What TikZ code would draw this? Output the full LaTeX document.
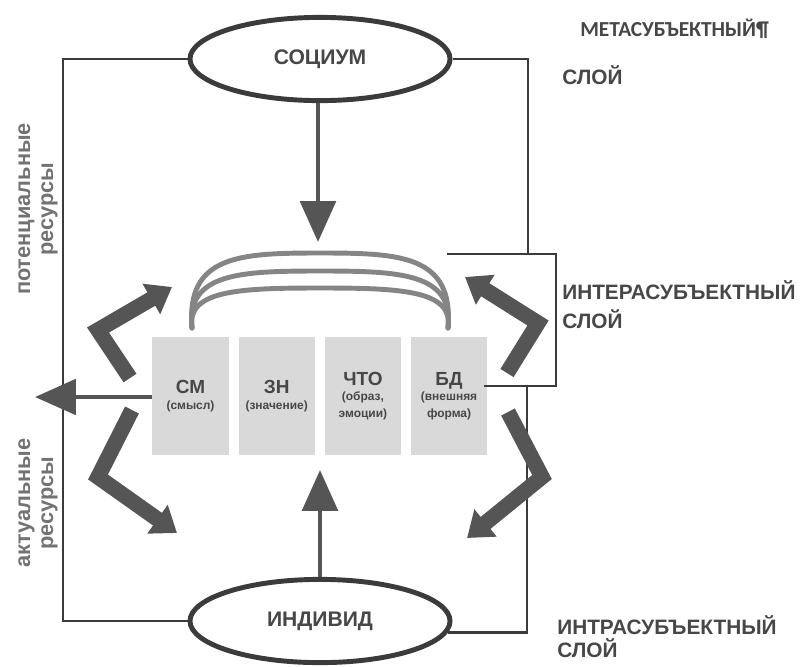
\documentclass[tikz,border=0pt]{standalone}
\usepackage{fontspec}
\setmainfont{Liberation Sans}
\newfontfamily\calfont{Carlito}
\usetikzlibrary{positioning,arrows.meta,shapes.geometric}
\definecolor{lgray}{HTML}{3B3B3B}
\definecolor{agray}{HTML}{555555}
\definecolor{fgray}{HTML}{D9D9D9}
\definecolor{rgray}{HTML}{858585}
\definecolor{tgray}{HTML}{474747}
\definecolor{sgray}{HTML}{727272}
\tikzstyle{ebox}=[ellipse, draw=lgray, line width=3.5pt, minimum width=6.5cm,
                  minimum height=2.08cm, inner sep=0pt, text=tgray,
                  font=\fontsize{15}{17}\selectfont\bfseries]
\tikzstyle{cbox}=[rectangle, fill=fgray, minimum width=1.9cm, minimum height=2.925cm,
                  inner sep=0pt, text=tgray, align=center, font=\bfseries]
\tikzstyle{pline}=[-, line width=2pt, draw=lgray]
\tikzstyle{sarrow}=[line width=3.5pt, draw=agray, -{Triangle[width=25pt,length=29pt]}]
\tikzstyle{barrow}=[line width=11pt, draw=agray, line join=miter,
                    -{Triangle[width=24pt,length=17pt]}]
\tikzstyle{rarc}=[line width=3.5pt, draw=rgray, line cap=round]
\tikzstyle{lay}=[anchor=west, inner sep=0pt, text=tgray, align=left]
\tikzstyle{res}=[rotate=90, inner sep=0pt, text=sgray, align=center,
                 font=\fontsize{15.5}{16.5}\selectfont\bfseries]
\newcommand{\boxmain}{\fontsize{13.5}{15}\selectfont}
\newcommand{\boxsub}{\fontsize{8.5}{10}\selectfont}
\begin{document}
\begin{tikzpicture}[x=0.025cm, y=-0.025cm]
\useasboundingbox (0,0) rectangle (800,666);

\node (SOCIUM) [ebox] at (320,59) {СОЦИУМ};
\node (INDIVID) [ebox] at (320,621) {ИНДИВИД};

\node (SM) [cbox] at (190.5,396) {\boxmain СМ\\[-1pt]\boxsub (смысл)};
\node (ZN) [cbox, right=0.24cm of SM] {\boxmain ЗН\\[-1pt]\boxsub (значение)};
\node (CHTO) [cbox, right=0.24cm of ZN] {\boxmain ЧТО\\[-1pt]\boxsub (образ,\\\boxsub эмоции)};
\node (BD) [cbox, right=0.24cm of CHTO] {\boxmain БД\\[-1pt]\boxsub (внешняя\\\boxsub форма)};

% frame
\coordinate (LC) at (63,621);
\coordinate (RT) at (528,254);
\coordinate (BRA) at (447,254);
\coordinate (BRB) at (556,386);
\coordinate (BRC) at (484,386);
\coordinate (RB) at (527,386);
 \draw[pline] (SOCIUM.west) -| (LC) -- (INDIVID.west);
 \draw[pline] (SOCIUM.east) -| (RT);
 \draw[pline] (BRA) -| (BRB) -- (BRC);
 \draw[pline] (RB) |- (INDIVID.-5);

% arcs
\foreach \yt in {253,271,288}
 \draw[rarc] (192,328) .. controls (186,\yt+2) and (240,\yt) .. (320,\yt)
             .. controls (400,\yt) and (454,\yt+2) .. (448,328);

% arrows
\coordinate (SOCTIP) at (318,242);
\coordinate (INDTIP) at (320,470);
\coordinate (LTIP) at (35,397);
 \draw[sarrow] (SOCIUM.south -| SOCTIP) -- (SOCTIP);
 \draw[sarrow] (INDIVID.north) -- (INDTIP);
 \draw[sarrow, line width=3pt] (SM.west |- LTIP) -- (LTIP);

\draw[barrow] (130,378) -- (98,330) -- (172,287);
\draw[barrow] (132,410) -- (98,477) -- (177,533);
\draw[barrow] (507,373) -- (538,323) -- (465,277);
\draw[barrow] (508,412) -- (542,477) -- (467,538);

% labels
\node (META) [lay, font=\calfont\fontsize{15.2}{16}\selectfont\bfseries] at (580,29) {МЕТАСУБЪЕКТНЫЙ¶};
\node (METAS) [lay, font=\fontsize{14.8}{16}\selectfont\bfseries] at (562,75) {СЛОЙ};
\node (INTER) [lay, font=\fontsize{14.8}{20.5}\selectfont\bfseries] at (562,305) {ИНТЕРАСУБЪЕКТНЫЙ\\СЛОЙ};
\node (INTRA) [lay, font=\fontsize{14.8}{16.3}\selectfont\bfseries] at (557,637) {ИНТРАСУБЪЕКТНЫЙ\\СЛОЙ};
\node (POT) [res] at (38,209) {потенциальные\\ресурсы};
\node (ACT) [res] at (38,503) {актуальные\\ресурсы};

\end{tikzpicture}
\end{document}
